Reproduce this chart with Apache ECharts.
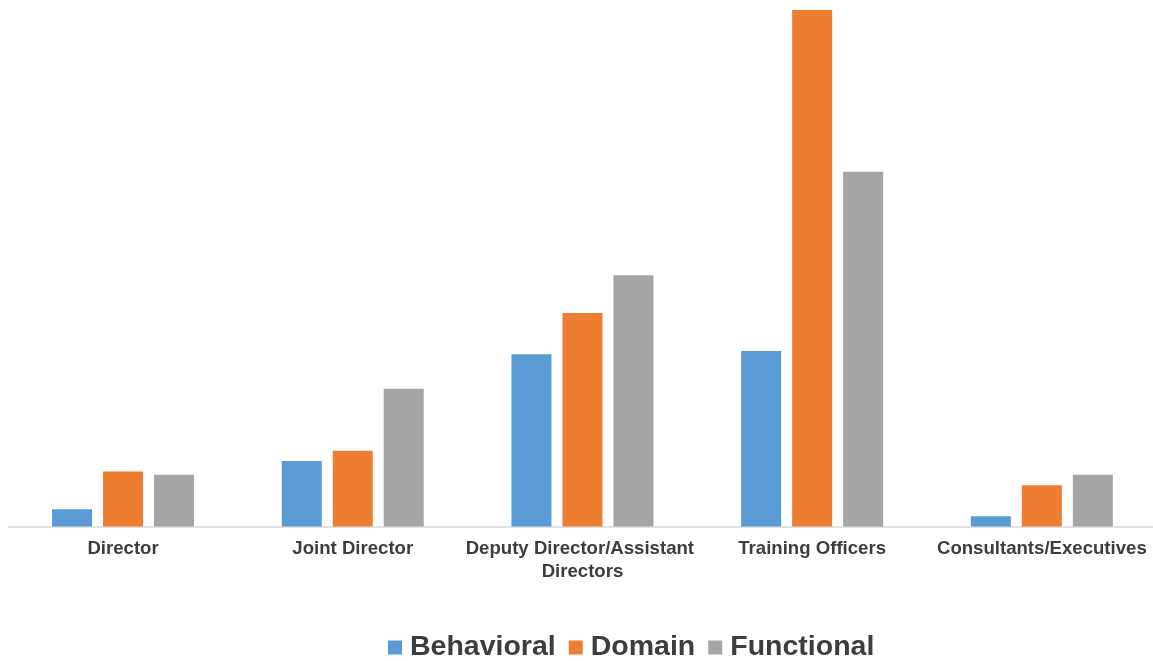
<!DOCTYPE html>
<html>
<head>
<meta charset="utf-8">
<script src="https://cdn.jsdelivr.net/npm/echarts@6/dist/echarts.min.js"></script>
<style>
  html, body { margin: 0; padding: 0; background: #ffffff; overflow: hidden; }
  #chart { width: 1153px; height: 661px; }
</style>
</head>
<body>
<div id="chart"></div>
<script>
// Competency counts by role level
const categories = ['Director', 'Joint Director', 'Deputy Director/Assistant Directors', 'Training Officers', 'Consultants/Executives'];
const behavioral = [5, 19, 50, 51, 3];
const domain = [16, 22, 62, 150, 12];
const functional = [15, 40, 73, 103, 15];

const seriesNames = ['Behavioral', 'Domain', 'Functional'];
const seriesColors = ['#5B9BD5', '#ED7D31', '#A5A5A5'];
const seriesData = [behavioral, domain, functional];

const chart = echarts.init(document.getElementById('chart'));

chart.setOption({
  animation: false,
  backgroundColor: '#ffffff',
  textStyle: { fontFamily: 'Liberation Sans, Arial, sans-serif' },
  // plot area runs slightly past the right edge of the canvas
  grid: {
    left: 8.2,
    width: 1148.5,
    top: 10,
    bottom: 134.5,
    containLabel: false,
    outerBoundsMode: 'none'
  },
  legend: {
    data: seriesNames,
    left: 388,
    top: 633,
    padding: 0,
    itemWidth: 14,
    itemHeight: 14,
    itemGap: 13,
    icon: 'rect',
    textStyle: {
      fontSize: 28.5,
      fontWeight: 'bold',
      color: '#3d3d3d',
      padding: [0, 0, 0, 3]
    }
  },
  xAxis: {
    type: 'category',
    data: categories,
    axisLine: { show: true, lineStyle: { color: '#d9d9d9', width: 1.5 } },
    axisTick: { show: false },
    axisLabel: {
      interval: 0,
      fontSize: 18.6,
      fontWeight: 'bold',
      color: '#3d3d3d',
      margin: 11,
      lineHeight: 23,
      width: 234,
      overflow: 'break'
    }
  },
  yAxis: {
    type: 'value',
    min: 0,
    max: 150,
    show: false,
    splitLine: { show: false }
  },
  series: seriesNames.map((name, i) => ({
    name: name,
    type: 'bar',
    data: seriesData[i],
    barWidth: 40,
    barGap: '27.5%',
    itemStyle: { color: seriesColors[i] }
  }))
});
</script>
</body>
</html>
